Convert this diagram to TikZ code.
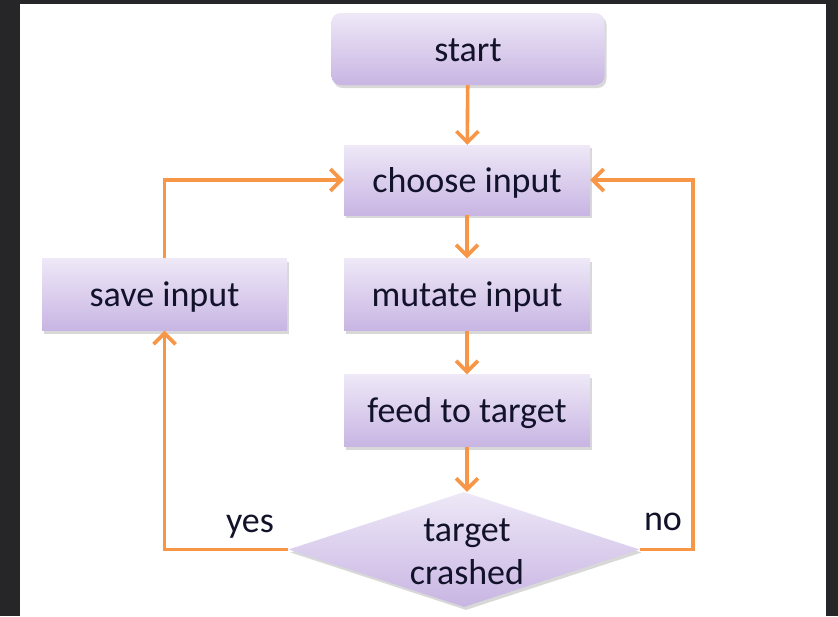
\documentclass[tikz,border=0pt]{standalone}
\usepackage{fontspec}
\setmainfont{Carlito}
\usetikzlibrary{shapes.geometric,arrows.meta,shadows}
\definecolor{boxtop}{HTML}{EEE8F7}
\definecolor{boxbot}{HTML}{C8B5E3}
\definecolor{orng}{HTML}{F79646}
\definecolor{darkbg}{HTML}{262628}
\definecolor{txt}{HTML}{12122A}
\tikzset{
  stepbox/.style={rectangle, inner sep=0pt, minimum width=246pt, minimum height=72pt,
    top color=boxtop, bottom color=boxbot, draw=none,
    drop shadow={opacity=0.3, shadow xshift=2pt, shadow yshift=-3pt},
    font=\fontsize{36}{43}\selectfont, text=txt, text height=29pt, text depth=5pt},
  decision/.style={diamond, inner sep=0pt, minimum width=351pt, minimum height=115pt,
    top color=boxtop, bottom color=boxbot, draw=none,
    drop shadow={opacity=0.3, shadow xshift=2pt, shadow yshift=-3pt}},
  lbl/.style={font=\fontsize{36}{43}\selectfont, text=txt, inner sep=0pt, align=center},
  conn/.style={draw=orng, line width=3.6pt, -{Straight Barb[length=11pt,width=22pt]}}
}
\begin{document}
\begin{tikzpicture}[x=1pt,y=-1pt]
\useasboundingbox (0,0) rectangle (838,616);
\fill[darkbg] (0,0) rectangle (838,616);
\fill[white] (20,4) rectangle (826,616);
\node[stepbox, minimum width=273pt, rounded corners=9pt] (start) at (468,49) {start};
\node[stepbox, minimum height=70pt] (choose) at (467,180) {choose input};
\node[stepbox] (mutate) at (467,294.5) {mutate input};
\node[stepbox, minimum width=245pt] (save) at (164.5,294.5) {save input};
\node[stepbox] (feed) at (467,410.5) {feed to target};
\node[decision] (dia) at (464,549.5) {};
\node[lbl] (diatext) at (467,552) {target\\crashed};
\coordinate (rt) at (693,549.5);
\draw[conn] (start) -- (choose);
\draw[conn] (choose) -- (mutate);
\draw[conn] (mutate) -- (feed);
\draw[conn] (feed) -- (dia.north -| feed.south);
\draw[conn] (dia.west) -| (save.south);
\draw[conn] (save.north) |- (choose.west);
\draw[conn] (dia.east) -- (rt) |- (choose.east);
\node[lbl] (yes) at (250,527) {yes};
\node[lbl] (no) at (663,522) {no};
\end{tikzpicture}
\end{document}
